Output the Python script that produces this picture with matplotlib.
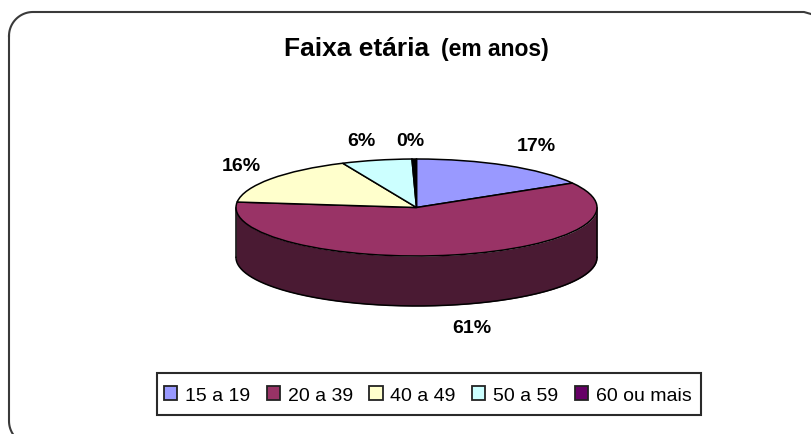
import numpy as np
import matplotlib.pyplot as plt
from matplotlib.patches import Patch, Rectangle

plt.rcParams['font.family'] = ['Liberation Sans', 'DejaVu Sans']

# values
categorias = ['15 a 19', '20 a 39', '40 a 49', '50 a 59', '60 ou mais']
valores = [16.6, 60.2, 16.5, 6.3, 0.4]
rotulos = ['17%', '61%', '16%', '6%', '0%']
cores = ['#9999FF', '#993366', '#FFFFCC', '#CCFFFF', '#660066']
cor_lateral = '#4A1A33'
profundidade = 1.03

W, H = 811, 435
fig = plt.figure(figsize=(W / 100, H / 100), dpi=100, facecolor='white')

# fundo em pixels: borda arredondada e textos
bg = fig.add_axes([0, 0, 1, 1])
bg.set_xlim(0, W)
bg.set_ylim(H, 0)
bg.axis('off')

r = 24
t = np.linspace(np.pi, 1.5 * np.pi, 30)
bx = list(9 + r + r * np.cos(t)) + [804, 811]
by = list(13 + r + r * np.sin(t)) + [13, 15]
bg.plot(bx, by, color='#3a3a3a', lw=1.5)
a = np.linspace(0, np.radians(50), 12)
bg.plot([9] + list(9 + r * (1 - np.cos(a))), [37] + list(422 + r * np.sin(a)),
        color='#3a3a3a', lw=1.5)

bg.text(284.5, 56, 'Faixa etária', fontsize=19, fontweight='bold', ha='left', va='baseline')
bg.text(441, 56, '(em anos)', fontsize=16.5, fontweight='bold', ha='left', va='baseline')

# pizza: elipse de x 236 a 597, y 160 a 257, com a lateral abaixo
cx_px, cy_px, a_px, b_px = 416.5, 208.5, 180.5, 48.5
base = cy_px + b_px + profundidade * b_px
ax = fig.add_axes([(cx_px - a_px) / W, 1 - base / H, 2 * a_px / W, (base - (cy_px - b_px)) / H])

ang = np.linspace(-np.pi, 0, 200)
xs = np.cos(ang)
ys = np.sin(ang)
ax.fill_between(xs, ys, ys - profundidade, color=cor_lateral, lw=0, zorder=1)
ax.plot(xs, ys - profundidade, color='black', lw=1.1, zorder=2, clip_on=False)
ax.plot([-1, -1], [0, -profundidade], color='black', lw=1.1, zorder=2, clip_on=False)
ax.plot([1, 1], [0, -profundidade], color='black', lw=1.1, zorder=2, clip_on=False)

wedges, _ = ax.pie(valores, colors=cores, startangle=90, counterclock=False,
                   radius=1, wedgeprops={'edgecolor': 'black', 'linewidth': 1.1, 'zorder': 3})
ax.set_aspect('auto')
ax.set_xlim(-1, 1)
ax.set_ylim(-1 - profundidade, 1)
for w in wedges:
    w.set_clip_on(False)
# a fatia de 0% aparece so como um traco preto
wedges[-1].set_facecolor('black')

# rotulos
pos_rotulos = [(536, 147), (472, 329), (241, 167), (361, 142), (410, 142)]
for txt, (x, y) in zip(rotulos, pos_rotulos):
    bg.text(x, y, txt, fontsize=14, fontweight='bold', ha='center', va='center')

# legenda
bg.add_patch(Rectangle((157, 373.5), 544, 42, facecolor='white', edgecolor='#2a2a2a', lw=1.5))
handles = [Patch(facecolor=c, edgecolor='#222222', linewidth=1.3) for c in cores]
leg = bg.legend(handles, categorias, ncol=5, loc='center',
                bbox_to_anchor=(428 / W, 1 - 396 / H), bbox_transform=fig.transFigure,
                fontsize=14, frameon=False, handlelength=0.67, handleheight=0.67,
                handletextpad=0.41, columnspacing=0.85, borderpad=0, borderaxespad=0)

fig.savefig('out.png', dpi=100)
